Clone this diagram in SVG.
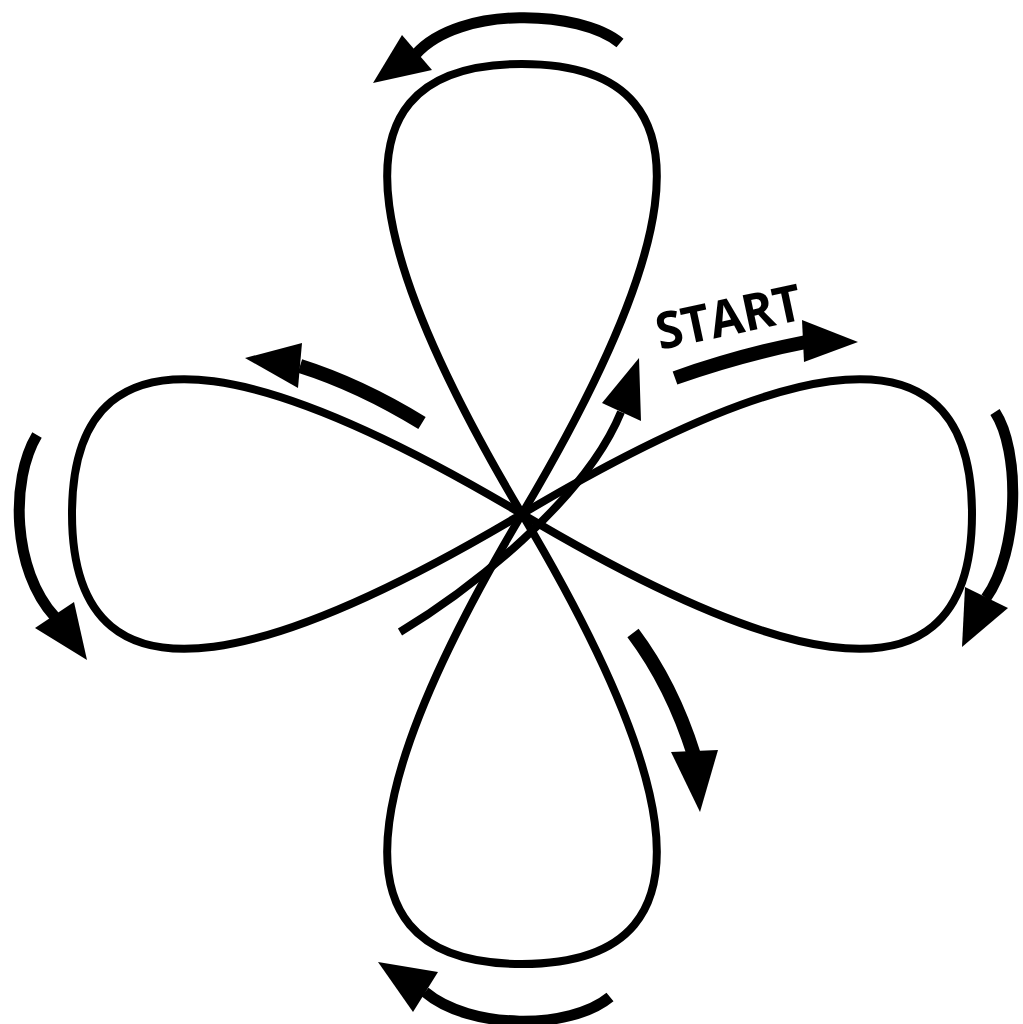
<svg xmlns="http://www.w3.org/2000/svg" width="1023" height="1024" viewBox="0 0 1023 1024">
<style>
.loop{fill:none;stroke:#000;stroke-width:8}
.shaft{fill:none;stroke:#000;stroke-width:11}
.thick{fill:none;stroke:#000;stroke-width:14}
.head{fill:#000;stroke:none}
.lbl{font-family:"Open Sans","Liberation Sans",sans-serif;font-weight:700;font-size:51px;fill:#000}
</style>
<rect width="1023" height="1024" fill="#fff"/>
<g id="loops">
<path class="loop" d="M522,514 C390,292 300,64 522,64 C744,64 654,292 522,514 C654,736 744,964 522,964 C300,964 390,736 522,514 Z"/>
<path class="loop" d="M522,514 C744,382 972,292 972,514 C972,736 744,646 522,514 C300,382 72,292 72,514 C72,736 300,646 522,514 Z"/>
</g>
<g id="start-line">
<path class="loop" d="M400,632 C470,590 585,500 621,412"/>
<polygon class="head" points="639,358 602,403 641,421"/>
</g>
<g id="arrows">
<path class="shaft" d="M620,43 C580,10 460,5 416,54"/>
<polygon class="head" points="373,83 402,35 432,70"/>
<path class="shaft" d="M610,997 C570,1030 470,1030 425,992"/>
<polygon class="head" points="378,962 413,1012 438,972"/>
<path class="shaft" d="M37,435 C10,480 12,570 55,617"/>
<polygon class="head" points="87,660 35,628 74,602"/>
<path class="shaft" d="M995,412 C1020,450 1020,550 986,598"/>
<polygon class="head" points="962,647 965,587 1008,608"/>
<path class="thick" d="M633,633 Q672,685 694,755"/>
<polygon class="head" points="700,812 671,752 718,750"/>
<path class="thick" d="M422,423 Q360,385 300,366"/>
<polygon class="head" points="245,358 302,343 298,388"/>
<path class="thick" d="M675,378 Q740,355 806,342"/>
<polygon class="head" points="858,342 802,320 804,362"/>
</g>
<g id="label">
<text class="lbl" x="660" y="350" textLength="148" lengthAdjust="spacingAndGlyphs" transform="rotate(-12 660 350)">START</text>
</g>
</svg>
